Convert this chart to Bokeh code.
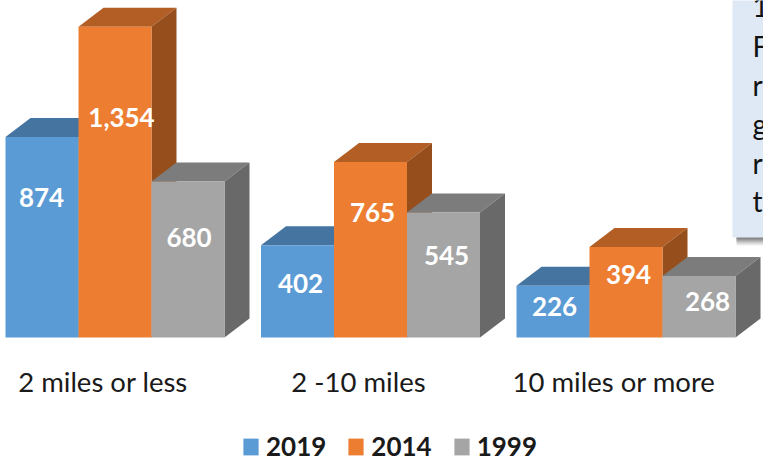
from bokeh.plotting import figure
from bokeh.models import Legend, LegendItem, FixedTicker, ColumnDataSource, Range1d
from bokeh.core.properties import value
from bokeh.embed import file_html
from bokeh.resources import INLINE

categories = ["2 miles or less", "2 -10 miles", "10 miles or more"]
series_names = ["2019", "2014", "1999"]
values_2019 = [874, 402, 226]
values_2014 = [1354, 765, 394]
values_1999 = [680, 545, 268]
box_letters = ["1", "F", "r", "g", "r", "t"]

FRONT = ["#5B9BD5", "#ED7D31", "#A5A5A5"]
TOP = ["#44749F", "#B25E25", "#7C7C7C"]
SIDE = ["#3A6590", "#964F1C", "#696969"]

W, H = 763, 466
BASE = 337.0
PX_Y = 0.2295
PX_X = 255.5
X0 = 102.5

def dx(px):
    return (px - X0) / PX_X

def dy(px):
    return (BASE - px) / PX_Y

p = figure(width=W, height=H, output_backend="svg", toolbar_location=None,
           x_range=Range1d(dx(0), dx(W)), y_range=Range1d(dy(H), dy(0)),
           min_border_left=0, min_border_right=0, min_border_top=0, min_border_bottom=0,
           outline_line_color=None, margin=(0, 0, 0, 0))
p.grid.visible = False
p.yaxis.visible = False
ax = p.xaxis[0]
ax.fixed_location = dy(358)
ax.ticker = FixedTicker(ticks=[0, 1, 2])
ax.major_label_overrides = {i: c for i, c in enumerate(categories)}
ax.axis_line_color = None
ax.major_tick_line_color = None
ax.minor_tick_line_color = None
ax.major_label_standoff = 0
ax.major_label_text_font = "Lato"
ax.major_label_text_font_size = "27.5px"
ax.major_label_text_color = "#1a1a1a"

BAR_W = 73 / PX_X
DEPTH_X = 25 / PX_X
DEPTH_Y = 19 / PX_Y
GROUP_SHIFT = 12 / PX_X
all_series = [values_2019, values_2014, values_1999]
legend_items = []

for s, (name, vals) in enumerate(zip(series_names, all_series)):
    centers = [i + GROUP_SHIFT + (s - 1) * BAR_W for i in range(3)]
    lefts = [c - BAR_W / 2 for c in centers]
    rights = [c + BAR_W / 2 for c in centers]
    p.patches([[l, l + DEPTH_X, r + DEPTH_X, r] for l, r in zip(lefts, rights)],
              [[v, v + DEPTH_Y, v + DEPTH_Y, v] for v in vals],
              fill_color=TOP[s], line_color=None)
    p.patches([[r, r + DEPTH_X, r + DEPTH_X, r] for r in rights],
              [[0, DEPTH_Y, v + DEPTH_Y, v] for v in vals],
              fill_color=SIDE[s], line_color=None)
    bars = p.vbar(x=centers, top=vals, bottom=0, width=BAR_W,
                  fill_color=FRONT[s], line_color=None)
    legend_items.append(LegendItem(label=name, renderers=[bars]))

label_dy = [[40, 65, 22], [8, 37, 19.5], [5, 18, 5]]
label_dx = [[-0.5, 6.5, 1], [3, 2, 3], [1.5, 2.5, 8.5]]
tx, ty, tt, xo, yo = [], [], [], [], []
for i in range(3):
    for s, vals in enumerate(all_series):
        tx.append(i + GROUP_SHIFT + (s - 1) * BAR_W)
        ty.append(vals[i] / 2)
        tt.append(f"{vals[i]:,}")
        xo.append(label_dx[i][s])
        yo.append(-label_dy[i][s])
p.text(x="x", y="y", text="t", x_offset="xo", y_offset="yo",
       source=ColumnDataSource(dict(x=tx, y=ty, t=tt, xo=xo, yo=yo)),
       text_color="white", text_font=value("Lato"), text_font_style="bold",
       text_font_size="26px", text_align="center", text_baseline="middle")

# Callout box, cut off by the picture's right edge
for off, a in [(8, 0.12), (6, 0.2), (4, 0.3), (2, 0.4)]:
    p.quad(left=dx(736), right=dx(W + 5), top=dy(230), bottom=dy(237 + off),
           fill_color="#555555", fill_alpha=a, line_color=None)
p.quad(left=dx(732), right=dx(W + 5), top=dy(-5), bottom=dy(237),
       fill_color="#DEE9F5", line_color=None)
p.text(x=[dx(752)] * 6, y=[dy(v) for v in (6, 45, 84, 123, 162, 200)], text=box_letters,
       text_color="#111111", text_font=value("Lato"), text_font_size="28px",
       text_align="left", text_baseline="middle")

legend = Legend(items=legend_items, orientation="horizontal", location=(241, 4),
                border_line_color=None, background_fill_alpha=0,
                label_text_font="Lato", label_text_font_style="bold",
                label_text_font_size="26px", label_text_color="#1a1a1a",
                glyph_width=19, glyph_height=21, label_standoff=6, spacing=20,
                margin=0, padding=4)
p.add_layout(legend, "center")

open("out.html", "w").write(file_html(p, INLINE))
